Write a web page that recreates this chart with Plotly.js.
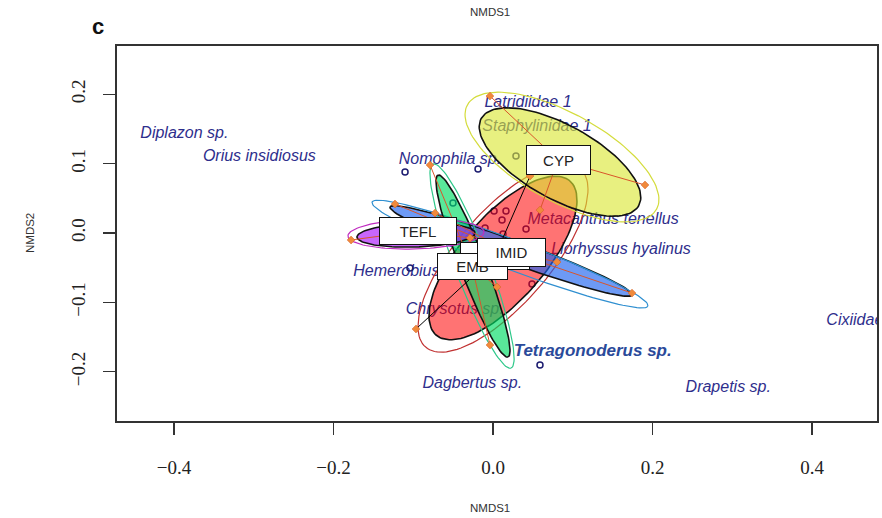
<!DOCTYPE html>
<html><head><meta charset="utf-8">
<script src="https://cdn.plot.ly/plotly-3.0.1.min.js"></script>
<style>html,body{margin:0;padding:0;background:#fff;} #chart{width:882px;height:518px;}</style>
</head><body><div id="chart"></div>
<script>
// ---- Species scores (text labels) ----
const speciesNames = ['Diplazon sp.','Orius insidiosus','Nomophila sp.','Latridiidae 1','Staphylinidae 1','Metacanthus tenellus','Liorhyssus hyalinus','Hemerobius sp.','Chrysotus sp.','Dagbertus sp.','Drapetis sp.'];
const speciesX = [-0.387,-0.293,-0.054,0.0439,0.0552,0.138,0.1605,-0.105,-0.048,-0.026,0.295];
const speciesY = [0.143,0.110,0.105,0.187,0.1527,0.019,-0.0245,-0.056,-0.111,-0.218,-0.223];
const boldSpeciesNames = ['Tetragonoderus sp.'];
const boldSpeciesX = [0.125];
const boldSpeciesY = [-0.171];
const edgeSpeciesNames = ['Cixiidae'];
const edgeSpeciesX = [0.418];
const edgeSpeciesY = [-0.127];

// ---- Site scores (open circles) ----
const siteX = [-0.1103,-0.0188,0.0288,-0.0502,0.0013,0.0163,0.0113,0.0414,-0.0100,0.0125,-0.1041,0.0489,0.0589];
const siteY = [0.0879,0.0922,0.1110,0.0432,0.0317,0.0317,0.0187,0.0058,0.0072,-0.0014,-0.0504,-0.0735,-0.1902];

// ---- Groups ----
const groupLabels = ['', 'CYP', 'IMID', 'EMB', 'TEFL'];
const centroidX = [0.0025, 0.0815, 0.0226, -0.0263, -0.094];
const centroidY = [-0.0331, 0.1052, -0.0274, -0.0476, 0.0029];

// filled (inner) ellipses: centre + two conjugate semi-axis vectors
const innerCX = [0.0125, 0.0840, 0.0226, -0.0251, -0.0966];
const innerCY = [-0.0360, 0.1023, -0.0259, -0.0476, -0.0029];
const innerAX = [0.0839, 0.0988, 0.1517, 0.0439, 0.0740];
const innerAY = [0.1110, -0.0627, -0.0634, -0.1311, 0.0029];
const innerBX = [0.0397, 0.0224, -0.0050, 0.0150, 0.0];
const innerBY = [-0.0397, 0.0467, -0.0155, 0.0066, -0.0173];

// outer (unfilled) ellipses
const outerCX = [0.0125, 0.0865, 0.0213, -0.0263, -0.0966];
const outerCY = [-0.0360, 0.1095, -0.0303, -0.0476, -0.0014];
const outerAX = [0.0971, 0.1186, 0.1730, 0.0489, 0.0853];
const outerAY = [0.1284, -0.0752, -0.0749, -0.1470, 0.0029];
const outerBX = [0.0440, 0.0267, -0.0066, 0.0199, 0.0];
const outerBY = [-0.0440, 0.0555, -0.0202, 0.0088, -0.0216];

// spider end points
const spiderX = [[-0.0966, 0.0464], [-0.0038, 0.1906, 0.0589], [0.1743, 0.0803, -0.1229, -0.0727], [-0.079, -0.0038, 0.005], [-0.178, -0.0288]];
const spiderY = [[-0.1383, 0.0821], [0.1974, 0.0692, 0.0331], [-0.0865, -0.0418, 0.0418, 0.0288], [0.098, -0.1614, -0.0778], [-0.0101, -0.0072]];

// ---- styles ----
const fillColors = ['rgba(255,0,0,0.55)', 'rgba(218,230,50,0.62)', 'rgba(30,100,240,0.65)', 'rgba(0,220,100,0.65)', 'rgba(170,20,250,0.65)'];
const outerColors = ['#c03030', '#d4dc3c', '#2f8fd0', '#2ec88a', '#c02cc0'];
const spiderColors = ['#000000', '#d9552a', '#d9552a', '#d9552a', '#d9552a'];
const boxW = [70, 65, 69, 71, 78];
const boxH = [28, 30, 29, 27, 28];
const labelOrder = [0, 1, 4, 3, 2];   // IMID box drawn last (on top of EMB)
const navy = '#2e2e8c';

function ellipse(cx, cy, ax, ay, bx, by) {
  const xs = [], ys = [];
  for (let i = 0; i <= 120; i++) {
    const t = 2 * Math.PI * i / 120;
    xs.push(cx + ax * Math.cos(t) + bx * Math.sin(t));
    ys.push(cy + ay * Math.cos(t) + by * Math.sin(t));
  }
  return {xs, ys};
}

const traces = [];
traces.push({type:'scatter', mode:'text', x:speciesX, y:speciesY, text:speciesNames, textposition:'middle center',
  textfont:{family:'Liberation Sans, Arial, sans-serif', size:16, style:'italic', color:navy}, hoverinfo:'skip', showlegend:false, cliponaxis:true});
traces.push({type:'scatter', mode:'text', x:boldSpeciesX, y:boldSpeciesY, text:boldSpeciesNames, textposition:'middle center',
  textfont:{family:'Liberation Sans, Arial, sans-serif', size:17, style:'italic', weight:'bold', color:'#2a4a9a'}, hoverinfo:'skip', showlegend:false});
traces.push({type:'scatter', mode:'text', x:edgeSpeciesX, y:edgeSpeciesY, text:edgeSpeciesNames, textposition:'middle right',
  textfont:{family:'Liberation Sans, Arial, sans-serif', size:16, style:'italic', color:navy}, hoverinfo:'skip', showlegend:false, cliponaxis:true});
traces.push({type:'scatter', mode:'markers', x:siteX, y:siteY,
  marker:{symbol:'circle-open', size:6, color:'#1c1c70', line:{width:1.5, color:'#1c1c70'}}, hoverinfo:'skip', showlegend:false});

for (let g = 0; g < groupLabels.length; g++) {
  const inn = ellipse(innerCX[g], innerCY[g], innerAX[g], innerAY[g], innerBX[g], innerBY[g]);
  traces.push({type:'scatter', mode:'lines', x:inn.xs, y:inn.ys, fill:'toself', fillcolor:fillColors[g],
    line:{color:'#111', width:1.6}, hoverinfo:'skip', showlegend:false});
  const out = ellipse(outerCX[g], outerCY[g], outerAX[g], outerAY[g], outerBX[g], outerBY[g]);
  traces.push({type:'scatter', mode:'lines', x:out.xs, y:out.ys,
    line:{color:outerColors[g], width:1.2}, hoverinfo:'skip', showlegend:false});
}
for (let g = 0; g < groupLabels.length; g++) {
  const lx = [], ly = [];
  spiderX[g].forEach((px, i) => { lx.push(centroidX[g], px, null); ly.push(centroidY[g], spiderY[g][i], null); });
  traces.push({type:'scatter', mode:'lines', x:lx, y:ly, line:{color:spiderColors[g], width:1}, hoverinfo:'skip', showlegend:false});
  traces.push({type:'scatter', mode:'markers', x:spiderX[g], y:spiderY[g],
    marker:{symbol:'diamond', size:6, color:'#f08a3c', line:{width:0.5, color:'#d05a20'}}, hoverinfo:'skip', showlegend:false});
}

const annotations = labelOrder.map(g => ({
  xref:'x', yref:'y', x:centroidX[g], y:centroidY[g], text: groupLabels[g] === '' ? '&nbsp;' : groupLabels[g], showarrow:false,
  xanchor:'center', yanchor:'middle',
  bgcolor:'#ffffff', bordercolor:'#111', borderwidth:1, borderpad:1, width:boxW[g]-4, height:boxH[g]-4,
  font:{family:'Liberation Sans, Arial, sans-serif', size:15, color:'#222'}
}));
const paperText = (x, y, text, size, extra) => Object.assign({xref:'paper', yref:'paper', x:x, y:y, text:text, showarrow:false,
  xanchor:'center', yanchor:'middle', font:{family:'Liberation Sans, Arial, sans-serif', size:size, color:'#333'}}, extra || {});
annotations.push(paperText(-0.025, 1.0507, '<b>c</b>', 22, {font:{family:'Liberation Sans, Arial, sans-serif', size:22, color:'#111'}}));
annotations.push(paperText(0.4908, 1.0907, 'NMDS1', 11.5));
annotations.push(paperText(0.4908, -0.232, 'NMDS1', 11.5));
annotations.push(paperText(-0.1145, 0.5013, 'NMDS2', 11.5, {textangle:-90}));

const layout = {
  width:882, height:518,
  margin:{l:117, r:5, t:46, b:97},
  paper_bgcolor:'#ffffff', plot_bgcolor:'#ffffff',
  showlegend:false,
  xaxis:{range:[-0.4715, 0.4815], tickvals:[-0.4,-0.2,0,0.2,0.4], tickformat:'.1f',
    showgrid:false, zeroline:false, showline:true, mirror:true, linecolor:'#333', linewidth:1.6,
    ticks:'outside', ticklen:12, tickwidth:1.4, tickcolor:'#333', ticklabelstandoff:17,
    tickfont:{family:'Liberation Serif, Times New Roman, serif', size:19, color:'#222'}},
  yaxis:{range:[-0.2709, 0.2695], tickvals:[-0.2,-0.1,0,0.1,0.2], tickformat:'.1f', tickangle:-90,
    showgrid:false, zeroline:false, showline:true, mirror:true, linecolor:'#333', linewidth:1.6,
    ticks:'outside', ticklen:12, tickwidth:1.4, tickcolor:'#333', ticklabelstandoff:11,
    tickfont:{family:'Liberation Serif, Times New Roman, serif', size:19, color:'#222'}},
  annotations: annotations
};

Plotly.newPlot('chart', traces, layout, {staticPlot:true, displayModeBar:false});
</script>
</body></html>
